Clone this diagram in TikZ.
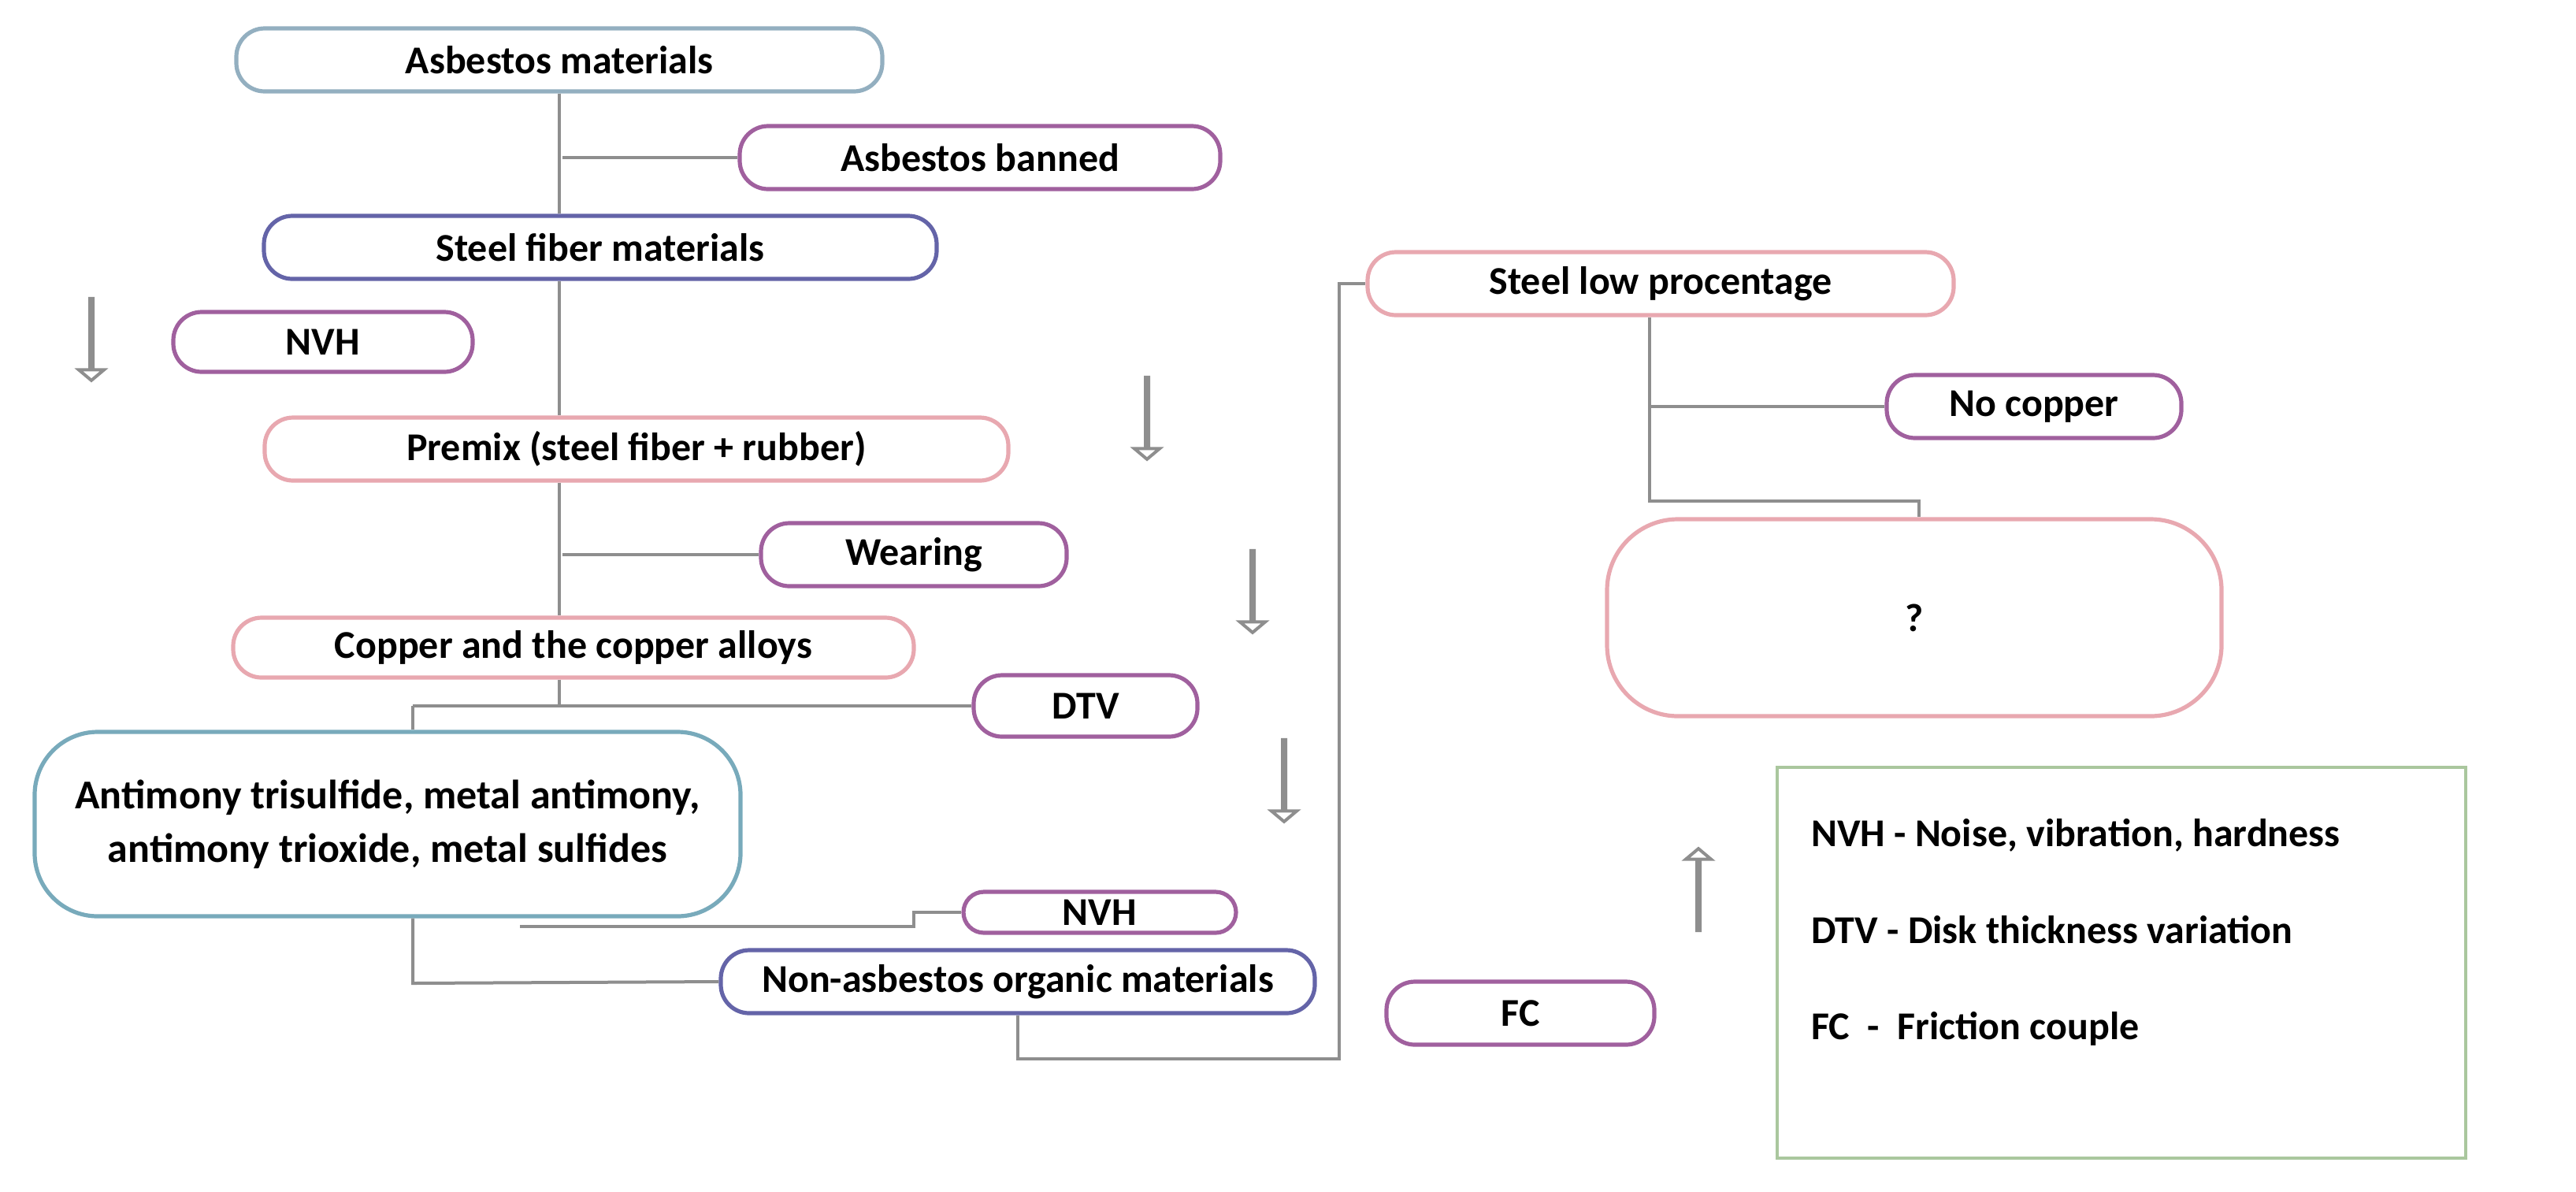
\documentclass[tikz,border=0pt]{standalone}
\usepackage{fontspec}
\setmainfont{Carlito}
\usetikzlibrary{shapes.arrows}
\definecolor{cA}{HTML}{93AFC0}
\definecolor{cP}{HTML}{A0609E}
\definecolor{cB}{HTML}{6464A8}
\definecolor{cK}{HTML}{E8A8B0}
\definecolor{cT}{HTML}{78AABB}
\definecolor{cG}{HTML}{AAC79E}
\definecolor{ln}{HTML}{8E8E8E}
\tikzset{
 box/.style={draw=#1,line width=2.6pt,rounded corners=18pt,fill=white,align=center,inner sep=0pt,font=\fontsize{25}{30}\selectfont\bfseries},
 conn/.style={draw=ln,line width=2pt},
 harrow/.style={single arrow,draw=ln,line width=2pt,minimum width=14pt,single arrow head extend=7pt,single arrow tip angle=100,minimum height=52pt,inner sep=0pt,fill=white},
 ltext/.style={anchor=west,font=\fontsize{25}{30}\selectfont\bfseries}
}
\begin{document}
\begin{tikzpicture}[x=1pt,y=-1pt]
\useasboundingbox (0,0) rectangle (1635,756);
\coordinate (j0) at (357,100);
\coordinate (j1) at (262,448);
\coordinate (j2) at (330,588);
\coordinate (j3) at (580,588);
\coordinate (j4) at (262,624);
\coordinate (j5) at (646,672);
\coordinate (j6) at (850,672);
\coordinate (j7) at (850,180);
\coordinate (j8) at (1047,258);
\coordinate (j9) at (1047,318);
\coordinate (j10) at (1218,318);
\node[box=cA,minimum width=410pt,minimum height=40pt] (a) at (355,38) {Asbestos materials};
\node[box=cP,minimum width=305pt,minimum height=40pt] (ab) at (622,100) {Asbestos banned};
\node[box=cB,minimum width=427pt,minimum height=40pt] (sf) at (381,157) {Steel fiber materials};
\node[box=cP,minimum width=190pt,minimum height=38pt] (nvh1) at (205,217) {NVH};
\node[box=cK,minimum width=472pt,minimum height=40pt] (pm) at (404,285) {Premix (steel fiber + rubber)};
\node[box=cP,minimum width=194pt,minimum height=40pt] (wr) at (580,352) {Wearing};
\node[box=cK,minimum width=432pt,minimum height=38pt] (cu) at (364,411) {Copper and the copper alloys};
\node[box=cP,minimum width=142pt,minimum height=39pt] (dtv) at (689,448) {DTV};
\node[box=cT,rounded corners=40pt,minimum width=448pt,minimum height=117pt,font=\fontsize{26}{34}\selectfont\bfseries] (sb) at (246,523) {Antimony trisulfide, metal antimony,\\antimony trioxide, metal sulfides};
\node[box=cP,minimum width=173pt,minimum height=26pt,rounded corners=13pt] (nvh2) at (698,579) {NVH};
\node[box=cB,minimum width=377pt,minimum height=40pt] (na) at (646,623) {Non-asbestos organic materials};
\node[box=cK,minimum width=372pt,minimum height=40pt] (sl) at (1054,180) {Steel low procentage};
\node[box=cP,minimum width=187pt,minimum height=40pt] (nc) at (1291,258) {No copper};
\node[box=cK,rounded corners=45pt,minimum width=390pt,minimum height=125pt] (q) at (1215,392) {?};
\node[box=cP,minimum width=170pt,minimum height=40pt] (fc) at (965,643) {FC};
\node[draw=cG,line width=2pt,minimum width=437pt,minimum height=248pt] (lg) at (1346.5,611) {};
\node[ltext] (l1) at (1146,530) {NVH - Noise, vibration, hardness};
\node[ltext] (l2) at (1146,590) {DTV - Disk thickness variation};
\node[ltext] (l3) at (1146,653) {FC \ - \ Friction couple};
\draw[conn] (a.south) -- (a.south |- sf.north);
\draw[conn] (j0) -- (ab.west);
\draw[conn] (a.south |- sf.south) -- (a.south |- pm.north);
\draw[conn] (a.south |- pm.south) -- (a.south |- cu.north);
\draw[conn] (j0 |- wr.west) -- (wr.west);
\draw[conn] (a.south |- cu.south) -- (a.south |- j1);
\draw[conn] (j1) -- (dtv.west);
\draw[conn] (j1) -- (j1 |- sb.north);
\draw[conn] (j2) -- (j3) -- (j3 |- nvh2.west) -- (nvh2.west);
\draw[conn] (j1 |- sb.south) -- (j4) -- (na.west);
\draw[conn] (j5 |- na.south) -- (j5) -- (j6) -- (j7) -- (sl.west);
\draw[conn] (j9 |- sl.south) -- (j9) -- (j10) -- (j10 |- q.north);
\draw[conn] (j8) -- (nc.west);
\node[harrow,rotate=-90] (ar1) at (58,215) {};
\node[harrow,rotate=-90] (ar2) at (728,265) {};
\node[harrow,rotate=-90] (ar3) at (795,375) {};
\node[harrow,rotate=-90] (ar4) at (815,495) {};
\node[harrow,rotate=90] (ar5) at (1078,565) {};
\end{tikzpicture}
\end{document}
